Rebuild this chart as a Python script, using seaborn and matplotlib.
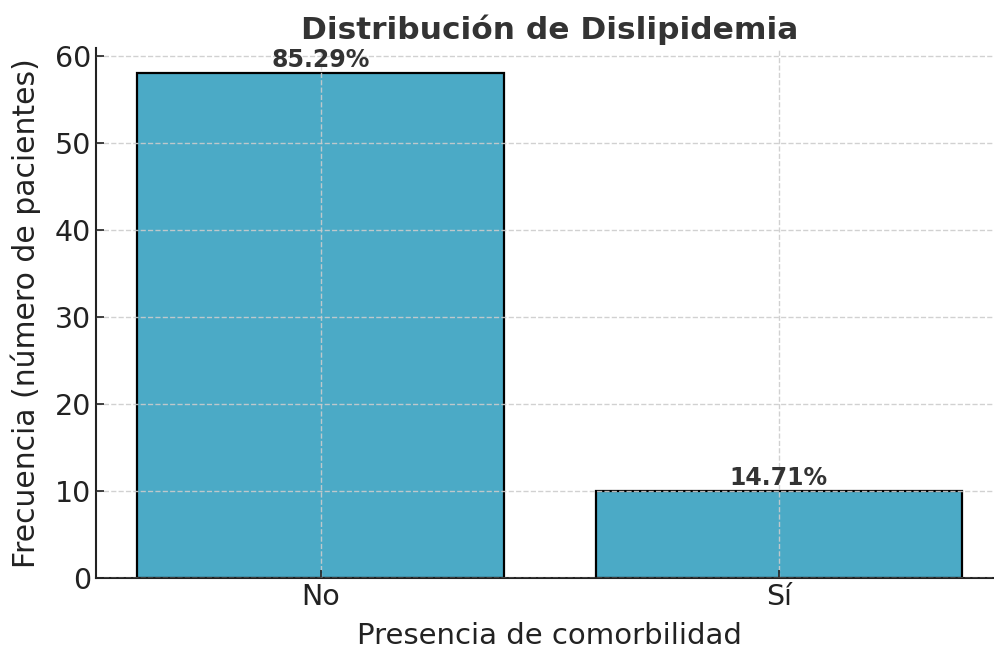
import matplotlib
matplotlib.use("Agg")
import matplotlib.pyplot as plt
import seaborn as sns
import pandas as pd

categories = ["No", "Sí"]
counts = [58, 10]
percent_labels = ["85.29%", "14.71%"]

bar_color = "#4BAAC6"
text_color = "#333333"

sns.set_style("ticks")
plt.rcParams["font.family"] = ["DejaVu Sans"]

df = pd.DataFrame({"categoria": categories, "frecuencia": counts})

fig = plt.figure(figsize=(9.95, 6.54), dpi=100)
ax = fig.add_axes([0.0965, 0.116, 0.912, 0.811])

sns.barplot(
    data=df, x="categoria", y="frecuencia", color=bar_color,
    edgecolor="black", linewidth=1.6, width=0.8, saturation=1, ax=ax,
)

for patch, label in zip(ax.patches, percent_labels):
    ax.text(
        patch.get_x() + patch.get_width() / 2, patch.get_height() + 0.15, label,
        ha="center", va="bottom", fontsize=17, fontweight="bold", color=text_color,
    )

ax.set_xlim(-0.49, 1.49)
ax.set_ylim(0, 60.9)
ax.set_title("Distribución de Dislipidemia", fontsize=22.5, fontweight="bold",
             color=text_color, pad=6)
ax.set_xlabel("Presencia de comorbilidad", fontsize=21, color="#222222", labelpad=8)
ax.set_ylabel("Frecuencia (número de pacientes)", fontsize=21.5, color="#222222",
              labelpad=10)
ax.tick_params(axis="both", labelsize=20.5, direction="in", length=6, width=1.2,
               colors="#222222")
ax.grid(True, linestyle="--", color="#cccccc", linewidth=1, alpha=0.9)
ax.set_axisbelow(False)
sns.despine(ax=ax)
for side in ["left", "bottom"]:
    ax.spines[side].set_linewidth(1.5)
    ax.spines[side].set_color("#222222")

fig.savefig("out.png", dpi=100)
